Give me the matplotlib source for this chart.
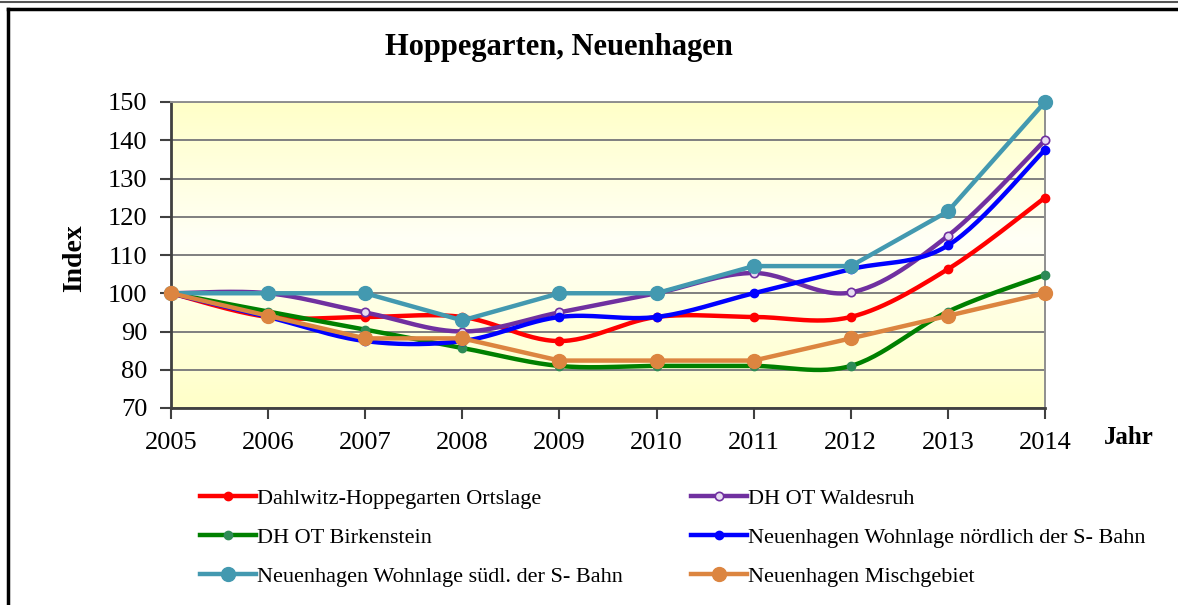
import numpy as np
import matplotlib.pyplot as plt
from matplotlib.lines import Line2D
from matplotlib.colors import LinearSegmentedColormap

plt.rcParams['font.family'] = ['Liberation Serif', 'DejaVu Serif']

years = [2005, 2006, 2007, 2008, 2009, 2010, 2011, 2012, 2013, 2014]
dahlwitz = [100, 93.8, 93.8, 93.8, 87.5, 93.8, 93.8, 93.8, 106.3, 125.0]
waldesruh = [100, 100, 95.0, 90.0, 95.0, 100, 105.3, 100.2, 115.0, 140.0]
birkenstein = [100, 95.2, 90.5, 85.7, 81.0, 81.0, 81.0, 81.0, 95.2, 104.8]
nord = [100, 93.8, 87.5, 87.5, 93.8, 93.8, 100, 106.3, 112.5, 137.5]
sued = [100, 100, 100, 92.9, 100, 100, 107.1, 107.1, 121.4, 150]
misch = [100, 94.1, 88.2, 88.2, 82.4, 82.4, 82.4, 88.2, 94.1, 100]

labels = ['Dahlwitz-Hoppegarten Ortslage', 'DH OT Waldesruh', 'DH OT Birkenstein',
          'Neuenhagen Wohnlage nördlich der S- Bahn',
          'Neuenhagen Wohnlage südl. der S- Bahn', 'Neuenhagen Mischgebiet']


def smooth(x, y, n=30):
    # Excel-like smoothing: Catmull-Rom style cubic Bezier segments
    x = np.asarray(x, float)
    y = np.asarray(y, float)
    px = np.concatenate([[x[0]], x, [x[-1]]])
    py = np.concatenate([[y[0]], y, [y[-1]]])
    t = np.linspace(0, 1, n)
    xs, ys = [], []
    for i in range(len(x) - 1):
        p0 = np.array([px[i], py[i]])
        p1 = np.array([px[i + 1], py[i + 1]])
        p2 = np.array([px[i + 2], py[i + 2]])
        p3 = np.array([px[i + 3], py[i + 3]])
        c1 = p1 + (p2 - p0) / 6
        c2 = p2 - (p3 - p1) / 6
        b = ((1 - t) ** 3)[:, None] * p1 + (3 * (1 - t) ** 2 * t)[:, None] * c1 \
            + (3 * (1 - t) * t ** 2)[:, None] * c2 + (t ** 3)[:, None] * p2
        xs.append(b[:, 0])
        ys.append(b[:, 1])
    return np.concatenate(xs), np.concatenate(ys)


fig = plt.figure(figsize=(11.78, 6.05), dpi=100)
ax = fig.add_axes([171 / 1178, 1 - 408 / 605, 874 / 1178, 306 / 605])

# gradient background
cmap = LinearSegmentedColormap.from_list('bg', [(0, '#FFFFC8'), (0.55, '#FFFFF6'), (1, '#FFFFC8')])
grad = np.linspace(0, 1, 256)[:, None]
ax.imshow(grad, aspect='auto', cmap=cmap, extent=[2005, 2014, 150, 70], zorder=0)

ax.set_xlim(2005, 2014)
ax.set_ylim(70, 150)
ax.set_yticks(range(70, 151, 10))
ax.set_xticks(years)
ax.grid(axis='y', color='#7f7f7f', linewidth=1.4, zorder=1)
ax.tick_params(direction='out', length=8, width=1.5, color='#404040', labelsize=19)
ax.tick_params(axis='y', pad=9)
ax.tick_params(axis='x', pad=9)
for side in ['left', 'bottom']:
    ax.spines[side].set_color('#404040')
    ax.spines[side].set_linewidth(2)
for side in ['top', 'right']:
    ax.spines[side].set_color('#8f8f8f')
    ax.spines[side].set_linewidth(1.4)

styles = [
    (dahlwitz, '#FF0000', dict(marker='o', ms=6, mfc='#FF0000', mec='#FF0000'), True),
    (waldesruh, '#7030A0', dict(marker='o', ms=6, mfc='#E8DDF2', mec='#7030A0', mew=1.2), True),
    (birkenstein, '#008000', dict(marker='o', ms=6, mfc='#2E8B57', mec='#2E8B57'), True),
    (nord, '#0000FF', dict(marker='o', ms=6, mfc='#0000FF', mec='#0000FF'), True),
    (sued, '#4399B0', dict(marker='o', ms=10, mfc='#4399B0', mec='#4399B0'), False),
    (misch, '#DC8540', dict(marker='o', ms=10, mfc='#DC8540', mec='#DC8540'), False),
]

handles = []
for i, (vals, col, mk, sm) in enumerate(styles):
    if sm:
        sx, sy = smooth(years, vals)
    else:
        sx, sy = years, vals
    ax.plot(sx, sy, color=col, lw=3.2, zorder=3 + i, solid_capstyle='round', clip_on=False)
    ax.plot(years, vals, linestyle='none', zorder=3 + i, clip_on=False, **mk)
    handles.append(Line2D([], [], color=col, lw=3.2, **mk))

fig.text(559 / 1178, 1 - 48 / 605, 'Hoppegarten, Neuenhagen', fontsize=22, fontweight='bold',
         ha='center', va='center')
fig.text(75 / 1178, 1 - 258 / 605, 'Index', fontsize=20, fontweight='bold', rotation=90,
         ha='center', va='center')
fig.text(1129 / 1178, 1 - 438 / 605, 'Jahr', fontsize=18, fontweight='bold', ha='center', va='center')

order = [0, 2, 4, 1, 3, 5]
fig.legend([handles[k] for k in order], [labels[k] for k in order], ncol=2,
           loc='upper left', bbox_to_anchor=(200 / 1178, 1 - 488 / 605), frameon=False,
           fontsize=16, handlelength=2.5, handletextpad=0.05, columnspacing=3.1,
           labelspacing=0.84, borderaxespad=0, borderpad=0)

# outer frame lines
fig.add_artist(Line2D([0, 1], [1 - 1.5 / 605, 1 - 1.5 / 605], color='#555555', lw=1.5))
fig.add_artist(Line2D([8 / 1178, 1], [1 - 9 / 605, 1 - 9 / 605], color='black', lw=2.5))
fig.add_artist(Line2D([8 / 1178, 8 / 1178], [0, 1 - 9 / 605], color='black', lw=2.5))

plt.savefig('out.png', dpi=100)
